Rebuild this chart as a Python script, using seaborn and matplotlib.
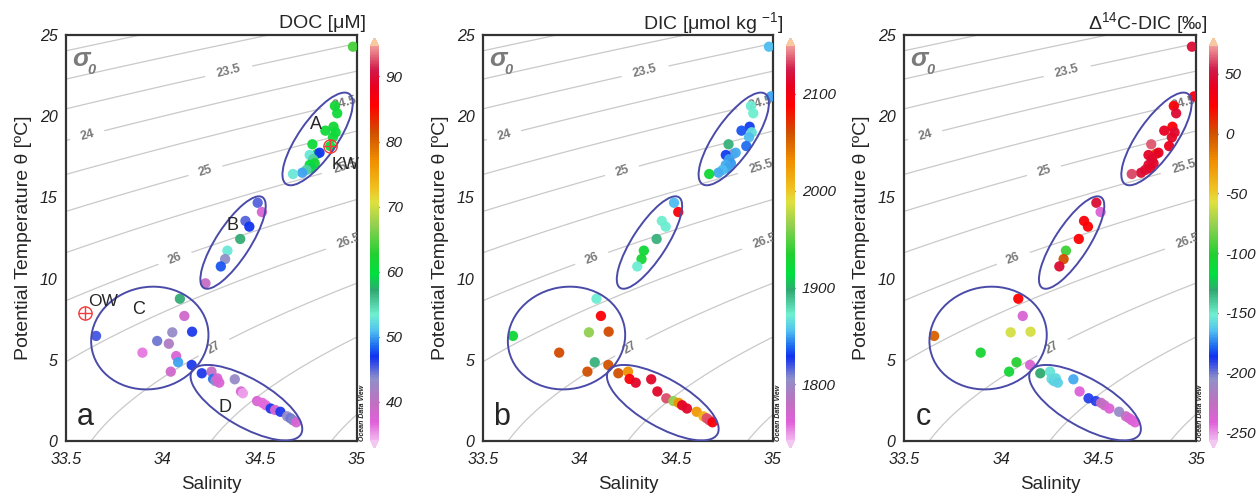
import numpy as np
import pandas as pd
import matplotlib
matplotlib.use("Agg")
import matplotlib.pyplot as plt
import seaborn as sns
from matplotlib.colors import LinearSegmentedColormap, Normalize
from matplotlib.patches import Ellipse
from matplotlib import transforms
from matplotlib.cm import ScalarMappable

# ---- station data: salinity, potential temperature and measured tracers ----
salinity = [
    34.979, 34.990, 34.886, 34.898, 34.879, 34.837, 34.890, 34.876, 34.770, 34.862,
    34.793, 34.756, 34.807, 34.773, 34.782, 34.756, 34.765, 34.739, 34.718, 34.670,
    34.488, 34.510, 34.425, 34.445, 34.398, 34.332, 34.320, 34.298, 34.219,
    33.655, 34.087, 34.110, 34.048, 34.150, 33.970, 34.030, 33.894, 34.068, 34.078,
    34.040, 34.148,
    34.200, 34.250, 34.258, 34.270, 34.280, 34.290, 34.370, 34.402, 34.412, 34.448,
    34.485, 34.512, 34.530, 34.555, 34.578, 34.605, 34.640, 34.657, 34.670, 34.687,
]
theta = [
    24.28, 21.22, 20.63, 20.18, 19.35, 19.11, 19.01, 18.70, 18.27, 18.16,
    17.67, 17.61, 17.75, 17.35, 17.10, 17.00, 16.79, 16.69, 16.52, 16.44,
    14.67, 14.10, 13.55, 13.20, 12.44, 11.72, 11.20, 10.75, 9.71,
    6.47, 8.76, 7.70, 6.69, 6.73, 6.16, 5.99, 5.44, 5.23, 4.85,
    4.27, 4.68,
    4.17, 4.27, 3.82, 3.69, 3.86, 3.59, 3.80, 3.05, 2.94, 2.63,
    2.46, 2.35, 2.20, 2.00, 1.91, 1.80, 1.52, 1.40, 1.28, 1.15,
]
nan = np.nan
doc = [
    64, nan, 61.5, 61, 61.5, 61, 60.5, 61, 61, 60,
    61, 53, 47, 55, 62, 60, 59, 55, 50, 53,
    45, 37.5, 45, 47, 57, 53, 43.5, 48, 39.5,
    45.5, 57, 38.5, 43, 46.5, 44.5, 41, 36, 37.5, 50,
    38.5, 46.5,
    46.5, 39.5, 49, 43, 37.5, 37.5, 43, 37.5, 35, nan,
    37.5, 36.5, 36.5, 46.5, 37.5, 46.5, 43, 44.5, 44, 37.5,
]
dic = [
    1855, 1850, 1870, 1872, 1830, 1835, 1865, 1855, 1895, 1840,
    1805, 1830, 1852, 1850, 1848, 1852, 1850, 1855, 1852, 1925,
    1855, 2092, 1872, 1870, 1895, 1925, 1928, 1870, nan,
    1925, 1870, 2092, 1965, 2062, nan, nan, 2062, nan, 1895,
    2060, 2058,
    2060, 2030, 2092, nan, nan, 2112, 2112, 2112, nan, 2135,
    1965, 2030, 2110, 2112, nan, 2025, 2010, 2135, 2135, 2095,
]
d14c = [
    47, 32, 28, 45, 26, 40, 44, 42, 62, 36,
    3, 42, 40, 44, 43, 45, 42, 44, 46, 60,
    47, -240, 28, 25, 24, -95, 0, 45, nan,
    -6, 24, -238, -60, -60, nan, nan, -105, nan, -100,
    -108, -238,
    -131, -155, -157, -160, -158, -160, -168, -240, nan, -190,
    -190, -228, -228, -240, nan, -208, -228, -235, -240, -242,
]

# water-mass groups: label, label position, outline (centre S, centre T, width px, height px, angle)
group_names = ["A", "B", "C", "D"]
group_label_pos = [(34.787, 19.46), (34.356, 13.24), (33.876, 8.11), (34.322, 2.05)]
group_outlines = [
    (34.797, 18.60, 110, 38, 55),
    (34.361, 12.22, 108, 34, 57),
    (33.932, 6.34, 118, 102, 12),
    (34.430, 2.36, 126, 48, -30),
]

# end members shown on the DOC panel
endmember_names = ["KW", "OW"]
endmember_s = [34.862, 33.598]
endmember_t = [18.16, 7.88]
endmember_label_pos = [(34.869, 17.0), (33.613, 8.56)]

# isopycnal levels and where their labels sit
plain_levels = [22.5, 23.0, 27.5, 28.0, 28.5]
sigma_label_levels = [23.5, 24, 24.5, 25, 25.5, 26, 26.5, 27]
sigma_label_pos = [(34.34, 22.7), (33.61, 18.8), (34.94, 20.7), (34.22, 16.6),
                   (34.94, 16.8), (34.06, 11.3), (34.96, 12.2), (34.26, 5.8)]

x_ticks = [33.5, 34, 34.5, 35]
y_ticks = [0, 5, 10, 15, 20, 25]

panels = [
    dict(col="doc", vmin=34.1, vmax=94.7, ticks=[40, 50, 60, 70, 80, 90],
         title="DOC [μM]", letter="a"),
    dict(col="dic", vmin=1742.4, vmax=2149.7, ticks=[1800, 1900, 2000, 2100],
         title="DIC [μmol kg $^{-1}$]", letter="b"),
    dict(col="d14c", vmin=-256.4, vmax=73.3, ticks=[-250, -200, -150, -100, -50, 0, 50],
         title="Δ$^{14}$C-DIC [‰]", letter="c"),
]

df = pd.DataFrame({"salinity": salinity, "theta": theta,
                   "doc": doc, "dic": dic, "d14c": d14c})

# ODV-style rainbow
odv_stops = [
    (0.000, "#f0b4f0"), (0.044, "#e060d8"), (0.093, "#c070c0"), (0.154, "#9090c8"),
    (0.210, "#1030f0"), (0.240, "#2070f0"), (0.276, "#50c0f0"), (0.317, "#70f0d0"),
    (0.380, "#30a870"), (0.420, "#00e040"), (0.470, "#20d030"), (0.544, "#90d050"),
    (0.605, "#e0e040"), (0.640, "#f0c020"), (0.707, "#f09000"), (0.780, "#d05000"),
    (0.850, "#ff0000"), (0.900, "#e80020"), (0.940, "#d01848"), (1.000, "#f09a9a"),
]
odv = LinearSegmentedColormap.from_list("odv", odv_stops)
odv.set_under("#f2c8f2")
odv.set_over("#f8c8a0")


def sigma0(s, t):
    """Potential density anomaly (UNESCO 1981, p = 0)."""
    rho_w = (999.842594 + 6.793952e-2 * t - 9.095290e-3 * t**2 + 1.001685e-4 * t**3
             - 1.120083e-6 * t**4 + 6.536332e-9 * t**5)
    a = 8.24493e-1 - 4.0899e-3 * t + 7.6438e-5 * t**2 - 8.2467e-7 * t**3 + 5.3875e-9 * t**4
    b = -5.72466e-3 + 1.0227e-4 * t - 1.6546e-6 * t**2
    c = 4.8314e-4
    return rho_w + a * s + b * s**1.5 + c * s**2 - 1000.0


sg, tg = np.meshgrid(np.linspace(33.3, 35.2, 300), np.linspace(-2, 27, 300))
sig = sigma0(sg, tg)

sns.set_style("white")
plt.rcParams["font.family"] = ["Liberation Sans", "DejaVu Sans"]
plt.rcParams["mathtext.fontset"] = "custom"
plt.rcParams["mathtext.rm"] = "Liberation Sans"
plt.rcParams["mathtext.it"] = "Liberation Sans:italic"

W, H = 1260, 497
fig = plt.figure(figsize=(W / 100, H / 100), dpi=100)
ax_left = [66, 483, 904]
ax_width = [291, 290, 292]
cb_left = [370, 786, 1209]
title_right = [366, 784, 1207]
ax_bottom, ax_top = 441, 35
cb_bottom, cb_top = 448, 38

for i, p in enumerate(panels):
    ax = fig.add_axes([ax_left[i] / W, 1 - ax_bottom / H, ax_width[i] / W,
                       (ax_bottom - ax_top) / H])
    cax = fig.add_axes([cb_left[i] / W, 1 - cb_bottom / H, 9 / W, (cb_bottom - cb_top) / H])

    # isopycnals: unlabelled ones, then the labelled set
    ax.contour(sg, tg, sig, levels=plain_levels, colors="#c9c9c9", linewidths=0.9, zorder=1)
    cs = ax.contour(sg, tg, sig, levels=sigma_label_levels, colors="#c9c9c9",
                    linewidths=0.9, zorder=1)
    lbls = ax.clabel(cs, manual=sigma_label_pos, inline=True,
                     inline_spacing=7, fontsize=9, fmt=lambda v: f"{v:g}")
    for t in lbls:
        t.set_color("#7a7a7a")
        t.set_fontweight("bold")

    norm = Normalize(p["vmin"], p["vmax"])
    sub = df.dropna(subset=[p["col"]])
    sns.scatterplot(data=sub, x="salinity", y="theta", hue=p["col"], palette=odv,
                    hue_norm=norm, s=55, linewidth=0, edgecolor="none", alpha=0.95,
                    legend=False, ax=ax, zorder=3)

    # group outlines and names
    for (cx, cy, w, h, ang), name, (lx, ly) in zip(group_outlines, group_names, group_label_pos):
        tr = fig.dpi_scale_trans + transforms.ScaledTranslation(cx, cy, ax.transData)
        ax.add_patch(Ellipse((0, 0), w / 100, h / 100, angle=ang, transform=tr,
                             fill=False, edgecolor="#4a4aa8", linewidth=1.4, zorder=4))
        if i == 0:
            ax.text(lx, ly, name, fontsize=13, ha="center", va="center", zorder=5)

    if i == 0:
        for name, s_, t_, (lx, ly) in zip(endmember_names, endmember_s, endmember_t,
                                           endmember_label_pos):
            ax.plot([s_], [t_], marker="o", ms=9.5, mfc="none", mec="#f03c3c", mew=1.0, zorder=6)
            ax.plot([s_], [t_], marker="+", ms=9.5, mec="#f03c3c", mew=1.0, zorder=6)
            ax.text(lx, ly, name, fontsize=12.5, ha="left", va="center", zorder=6)

    # sigma-0 tag
    ax.text(0.022, 0.942, "σ", transform=ax.transAxes, fontsize=19, fontstyle="italic",
            color="#7a7a7a", va="center", ha="left", fontweight="bold")
    ax.text(0.075, 0.915, "0", transform=ax.transAxes, fontsize=10.5, fontstyle="italic",
            color="#7a7a7a", va="center", ha="left", fontweight="bold")
    ax.text(0.065, 0.06, p["letter"], transform=ax.transAxes, fontsize=22,
            va="center", ha="center")
    ax.text(1.0 + 5 / ax_width[i], 0.0, "Ocean Data View", transform=ax.transAxes,
            rotation=90, va="bottom", ha="center", fontsize=5, fontstyle="italic",
            fontweight="bold", color="#222222")

    ax.set_xlim(33.5, 35)
    ax.set_ylim(0, 25)
    ax.set_xticks(x_ticks)
    ax.set_xticklabels([f"{v:g}" for v in x_ticks], fontstyle="italic", fontsize=11.5)
    ax.set_yticks(y_ticks)
    ax.set_yticklabels([f"{v:g}" for v in y_ticks], fontstyle="italic", fontsize=11.5)
    ax.tick_params(direction="in", length=3, width=0.8, colors="#555555", labelcolor="#222222")
    ax.tick_params(axis="x", pad=8)
    ax.tick_params(axis="y", pad=6)
    ax.set_xlabel("Salinity", fontsize=13.5)
    ax.set_ylabel("Potential Temperature θ [ºC]", fontsize=14)
    ax.yaxis.set_label_coords(-0.118, 0.5)
    ax.xaxis.set_label_coords(0.5, -0.087)
    for sp in ax.spines.values():
        sp.set_color("#333333")
        sp.set_linewidth(1.6)

    cb = fig.colorbar(ScalarMappable(norm=norm, cmap=odv), cax=cax, extend="both",
                      extendfrac=0.02)
    cb.outline.set_visible(False)
    cb.set_ticks(p["ticks"])
    cb.set_ticklabels([f"{v:g}" for v in p["ticks"]])
    cax.tick_params(direction="in", length=3, width=1, colors="#333333", labelsize=11,
                    labelcolor="#222222", pad=5)
    for t in cax.get_yticklabels():
        t.set_fontstyle("italic")

    fig.text(title_right[i] / W, 1 - 23 / H, p["title"], ha="right", va="center", fontsize=14)

fig.savefig("out.png", dpi=100, facecolor="white")
